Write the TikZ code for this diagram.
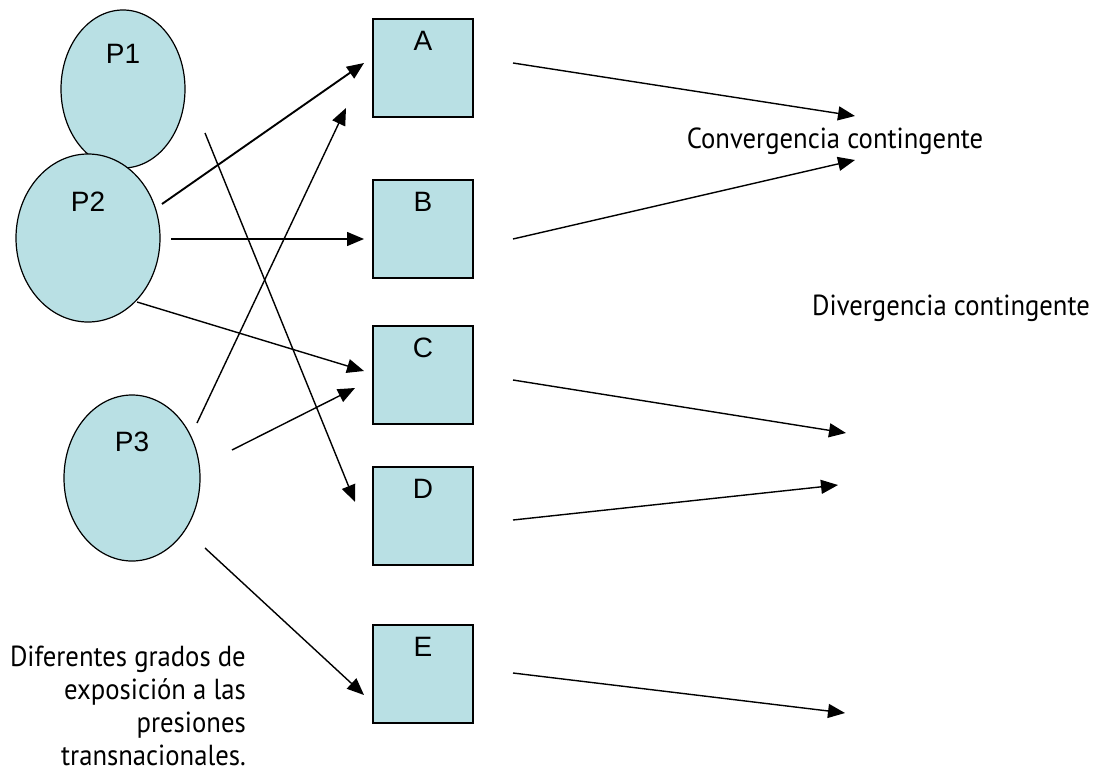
\documentclass[tikz,border=0pt]{standalone}
\usepackage{fontspec}
\setmainfont{Liberation Sans}
\newfontfamily\notefont[FakeStretch=0.92]{PT Sans}
\usetikzlibrary{shapes.geometric, arrows.meta}
\definecolor{celeste}{RGB}{185,224,228}
\tikzset{
    >={Triangle[length=17pt,width=14pt]},
    % Shapes
    pais/.style={ellipse, draw=black, line width=1.2pt, fill=celeste, inner sep=0pt},
    caja/.style={rectangle, draw=black, line width=1.8pt, fill=celeste,
                 minimum width=100pt, minimum height=98pt, inner sep=0pt},
    tit/.style={anchor=north, inner sep=0pt, font=\fontsize{28}{32}\selectfont},
    % Flow & Labels
    flow/.style={->, line width=1.4pt},
    nota/.style={font=\notefont\fontsize{29}{33}\selectfont, inner sep=0pt}
}

\begin{document}
\begin{tikzpicture}[x=1pt, y=-1pt]
\useasboundingbox (0,0) rectangle (1099,779);

% countries
\node[pais, minimum width=124pt, minimum height=158pt,
      label={[tit, yshift=-35pt]north:P1}] (p1) at (123,89) {};
\node[pais, minimum width=144pt, minimum height=168pt,
      label={[tit, yshift=-38pt]north:P2}] (p2) at (88,238) {};
\node[pais, minimum width=136pt, minimum height=166pt,
      label={[tit, yshift=-37pt]north:P3}] (p3) at (132,478) {};

% outcomes
\node[caja, label={[tit, yshift=-13pt]north:A}] (a) at (423,68) {};
\node[caja, label={[tit, yshift=-13pt]north:B}] (b) at (423,229) {};
\node[caja, label={[tit, yshift=-13pt]north:C}] (c) at (423,375) {};
\node[caja, label={[tit, yshift=-13pt]north:D}] (d) at (423,516) {};
\node[caja, label={[tit, yshift=-13pt]north:E}] (e) at (423,674) {};

% texts
\node[nota, anchor=base] (conv) at (835,148) {Convergencia contingente};
\node[nota, anchor=base] (div) at (951,315) {Divergencia contingente};
\node[nota, align=right, anchor=north east] (grados) at (246,646)
     {Diferentes grados de\\exposición a las\\presiones\\transnacionales.};

\coordinate (c-end) at (846,433);
\coordinate (d-end) at (838,485);
\coordinate (e-end) at (845,713);

% pressures
\draw[flow, line width=1.9pt] ([shift={(74,-34)}]p2.center) -- ([shift={(-59,-5)}]a.center);
\draw[flow] ([shift={(65,-55)}]p3.center) -- ([shift={(-77,40)}]a.center);
\draw[flow] ([shift={(82,44)}]p1.center) -- ([shift={(-68,-14)}]d.center);
\draw[flow] ([shift={(83,1)}]p2.center) -- ([shift={(-59,10)}]b.center);
\draw[flow] ([shift={(49,64)}]p2.center) -- ([shift={(-59,-4)}]c.center);
\draw[flow] ([shift={(100,-28)}]p3.center) -- ([shift={(-68,13)}]c.center);
\draw[flow] ([shift={(73,70)}]p3.center) -- ([shift={(-59,21)}]e.center);

% results
\draw[flow] ([shift={(90,-5)}]a.center) -- ([shift={(20,-32)}]conv.base);
\draw[flow] ([shift={(90,10)}]b.center) -- ([shift={(20,12)}]conv.base);
\draw[flow] ([shift={(90,5)}]c.center) -- (c-end);
\draw[flow] ([shift={(90,4)}]d.center) -- (d-end);
\draw[flow] ([shift={(90,-1)}]e.center) -- (e-end);

\end{tikzpicture}
\end{document}
